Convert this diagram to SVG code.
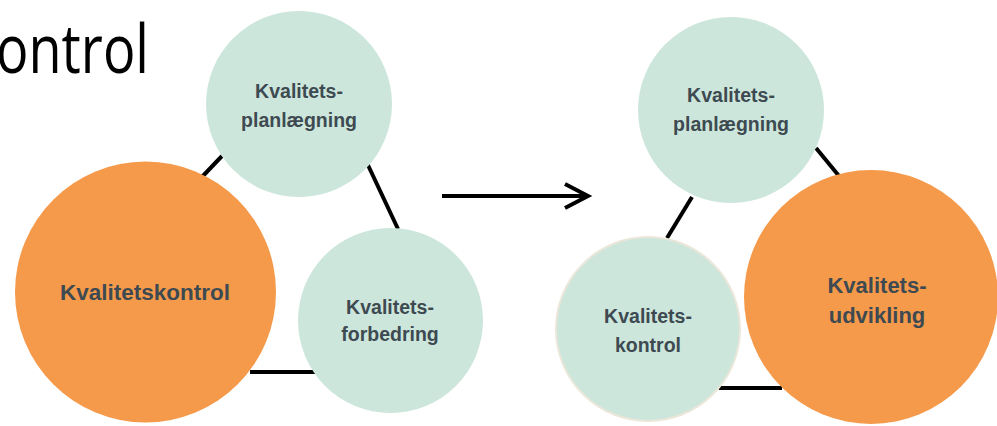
<svg xmlns="http://www.w3.org/2000/svg" width="997" height="426" viewBox="0 0 997 426">
<defs>
<style>
.mint{fill:#cde6dc}
.orange{fill:#f5994a}
.lbl{font-family:"Liberation Sans",Arial,sans-serif;font-weight:bold;fill:#3e4a51;text-anchor:middle}
.s{font-size:19.5px}
.b{font-size:22.5px}
.conn{stroke:#000;stroke-width:4;fill:none}
</style>
<marker id="arr" viewBox="0 0 10 10" refX="9" refY="5" markerWidth="7" markerHeight="7" markerUnits="userSpaceOnUse" orient="auto" overflow="visible">
</marker>
</defs>
<rect width="997" height="426" fill="#fff"/>
<text x="-4" y="73" font-family="'Open Sans','Liberation Sans',sans-serif" font-size="68" fill="#000" textLength="153" lengthAdjust="spacingAndGlyphs">ontrol</text>
<g id="connectors">
<line class="conn" x1="200" y1="179" x2="222" y2="156"/>
<line class="conn" x1="367" y1="163" x2="398" y2="229"/>
<line class="conn" x1="250" y1="372" x2="317" y2="372"/>
<line class="conn" x1="442" y1="196" x2="588" y2="196"/>
<polyline class="conn" points="565,184 588,196 565,208"/>
<line class="conn" x1="816" y1="148" x2="839" y2="176"/>
<line class="conn" x1="692" y1="197" x2="667" y2="238"/>
<line class="conn" x1="719" y1="388" x2="782" y2="388"/>
</g>
<g id="left-planlaegning">
<circle class="mint" cx="299" cy="104" r="93"/>
<text class="lbl s" x="299" y="98">Kvalitets-</text>
<text class="lbl s" x="299" y="127">planlægning</text>
</g>
<g id="left-kontrol">
<circle class="orange" cx="145.5" cy="292" r="130.5"/>
<text class="lbl b" x="145" y="300">Kvalitetskontrol</text>
</g>
<g id="left-forbedring">
<circle class="mint" cx="390.5" cy="320.5" r="92.5"/>
<text class="lbl s" x="390" y="314">Kvalitets-</text>
<text class="lbl s" x="390" y="341">forbedring</text>
</g>
<g id="right-planlaegning">
<circle class="mint" cx="731" cy="110" r="93"/>
<text class="lbl s" x="731" y="102">Kvalitets-</text>
<text class="lbl s" x="731" y="131">planlægning</text>
</g>
<g id="right-kontrol">
<circle class="mint" cx="648" cy="329" r="92" stroke="#ebe6da" stroke-width="2"/>
<text class="lbl s" x="648" y="323">Kvalitets-</text>
<text class="lbl s" x="648" y="352">kontrol</text>
</g>
<g id="right-udvikling">
<circle class="orange" cx="871" cy="297" r="127"/>
<text class="lbl" font-size="22" x="877" y="293">Kvalitets-</text>
<text class="lbl" font-size="22" x="877" y="323">udvikling</text>
</g>
</svg>
